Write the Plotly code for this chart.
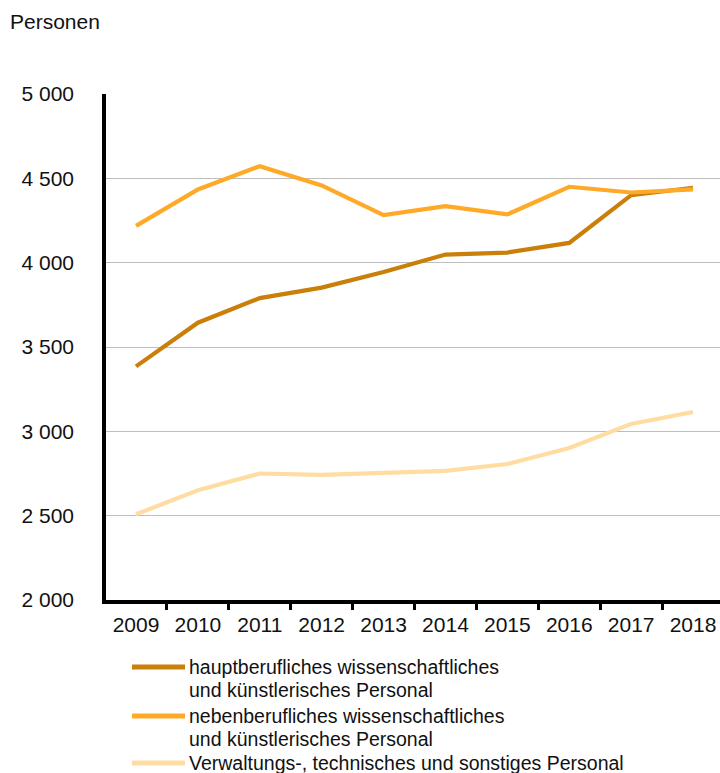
import plotly.graph_objects as go

years = ["2009", "2010", "2011", "2012", "2013", "2014", "2015", "2016", "2017", "2018"]
haupt = [3385, 3644, 3790, 3852, 3945, 4048, 4060, 4117, 4400, 4444]
neben = [4218, 4434, 4572, 4458, 4282, 4335, 4286, 4450, 4416, 4434]
verwaltung = [2508, 2651, 2750, 2742, 2754, 2766, 2806, 2901, 3044, 3115]

names = [
    ["hauptberufliches wissenschaftliches", "und künstlerisches Personal"],
    ["nebenberufliches wissenschaftliches", "und künstlerisches Personal"],
    ["Verwaltungs-, technisches und sonstiges Personal"],
]
colors = ["#C97F0A", "#FFA928", "#FFDDA2"]
series = [haupt, neben, verwaltung]

W, H = 720, 773
L, R, T, B = 106, 0, 94, 173
FONT = "Liberation Sans, Arial, sans-serif"

fig = go.Figure()
for vals, col, nm in zip(series, colors, names):
    fig.add_trace(go.Scatter(
        x=years, y=vals, mode="lines", name=" ".join(nm),
        line=dict(color=col, width=4.2), showlegend=False,
    ))

def py(p):
    return (H - B - p) / (H - T - B)

def px(p):
    return (p - L) / (W - L - R)

shapes = []
annotations = []
# manual legend
rows = [(667, [667, 690]), (716, [716, 739]), (763, [763])]
for (ly, tys), col, nm in zip(rows, colors, names):
    shapes.append(dict(type="line", xref="paper", yref="paper",
                       x0=px(132), x1=px(185), y0=py(ly), y1=py(ly),
                       line=dict(color=col, width=5)))
    for ty, txt in zip(tys, nm):
        annotations.append(dict(xref="paper", yref="paper", x=px(187), y=py(ty),
                                xanchor="left", yanchor="middle", showarrow=False,
                                text=txt, font=dict(size=19.5, color="#111111", family=FONT)))

annotations.append(dict(xref="paper", yref="paper", x=px(8), y=py(22),
                        xanchor="left", yanchor="middle", showarrow=False,
                        text="Personen", font=dict(size=21, color="#111111", family=FONT)))

fig.update_layout(
    width=W, height=H,
    margin=dict(l=L, r=R, t=T, b=B),
    paper_bgcolor="white", plot_bgcolor="white",
    font=dict(family=FONT, size=21, color="#111111"),
    shapes=shapes, annotations=annotations,
    showlegend=False,
)
fig.update_xaxes(
    type="category", range=[-0.485, 9.436],
    showline=True, linecolor="black", linewidth=3.5,
    ticks="outside", tickson="boundaries", ticklen=6, tickwidth=2.5, tickcolor="black",
    showgrid=False, tickfont=dict(size=21), ticklabelstandoff=3,
)
fig.update_yaxes(
    range=[2000, 5000], tickvals=[2000, 2500, 3000, 3500, 4000, 4500, 5000],
    ticktext=["2 000", "2 500", "3 000", "3 500", "4 000", "4 500", "5 000"],
    showline=True, linecolor="black", linewidth=3.5,
    showgrid=True, gridcolor="#BEBEBE", gridwidth=1.3,
    zeroline=False, ticks="", tickfont=dict(size=21), ticklabelstandoff=24,
)

fig.write_html("out.html", config={"displayModeBar": False},
               post_script="document.body.style.margin='0px';document.body.style.overflow='hidden';")
